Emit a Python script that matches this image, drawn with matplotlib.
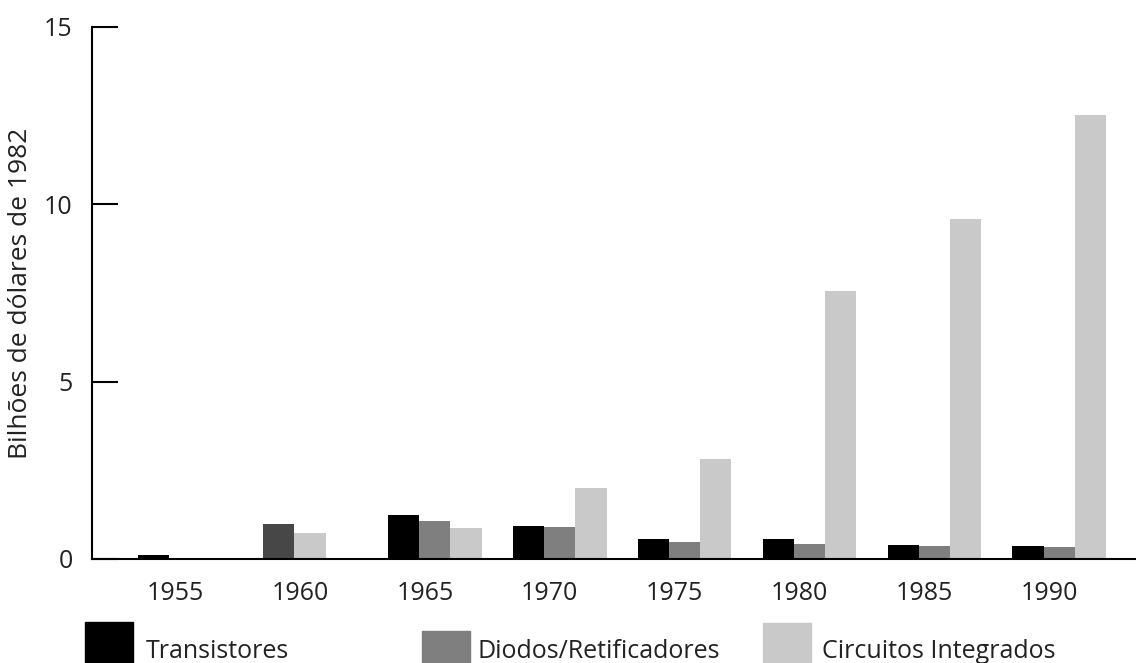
import numpy as np
import matplotlib.pyplot as plt
from matplotlib.patches import Rectangle

anos = ["1955", "1960", "1965", "1970", "1975", "1980", "1985", "1990"]
transistores = [0.1, 0.98, 1.24, 0.93, 0.56, 0.56, 0.39, 0.38]
diodos = [0.0, 0.72, 1.08, 0.90, 0.49, 0.41, 0.38, 0.35]
circuitos = [0.0, 0.0, 0.87, 1.99, 2.82, 7.56, 9.59, 12.52]
series_nomes = ["Transistores", "Diodos/Retificadores", "Circuitos Integrados"]
yticks = [0, 5, 10, 15]

plt.rcParams['font.family'] = ['Open Sans', 'DejaVu Sans']

cores = ["#000000", "#7f7f7f", "#c9c9c9"]

fig = plt.figure(figsize=(11.36, 6.63), dpi=100)
ax = fig.add_axes([92 / 1136, 1 - 559 / 663, 1 - 92 / 1136, (559 - 27) / 663])

x = np.arange(len(anos))
w = 0.25
b1 = ax.bar(x - w, transistores, w, color=cores[0])
b2 = ax.bar(x, diodos, w, color=cores[1])
b3 = ax.bar(x + w, circuitos, w, color=cores[2])

# 1960 group is printed oddly in the source: dark grey + light grey bars
b1[1].set_facecolor("#474747")
b2[1].set_facecolor(cores[2])

ax.set_xlim(-0.745, 7.614)
ax.set_ylim(0, 15)
ax.set_xticks(x - 0.08)
ax.set_xticklabels(anos, fontsize=18, color="#222222")
ax.set_yticks(yticks)
ax.set_yticklabels([str(t) for t in yticks], fontsize=18, color="#222222")
ax.tick_params(axis='x', length=0, pad=16)
ax.tick_params(axis='y', direction='in', length=19, width=1.5, pad=14)
ax.set_ylabel("Bilhões de dólares de 1982", fontsize=19, labelpad=8, color="#222222")

for s in ["top", "right"]:
    ax.spines[s].set_visible(False)
for s in ["left", "bottom"]:
    ax.spines[s].set_linewidth(1.5)

# legend drawn by hand, entries are unevenly spaced in the original
leg_sq = [(85, 622), (422, 631), (763, 623)]
leg_tx = [146, 477, 822]
for (px, py), tx, c, nome in zip(leg_sq, leg_tx, cores, series_nomes):
    fig.patches.append(Rectangle((px / 1136, 0), 48 / 1136, (663 - py) / 663,
                                 transform=fig.transFigure, color=c))
    fig.text(tx / 1136, 1 - 658 / 663, nome, fontsize=18, va='baseline', ha='left',
             color="#222222")

fig.savefig("out.png", dpi=100, facecolor="white")
